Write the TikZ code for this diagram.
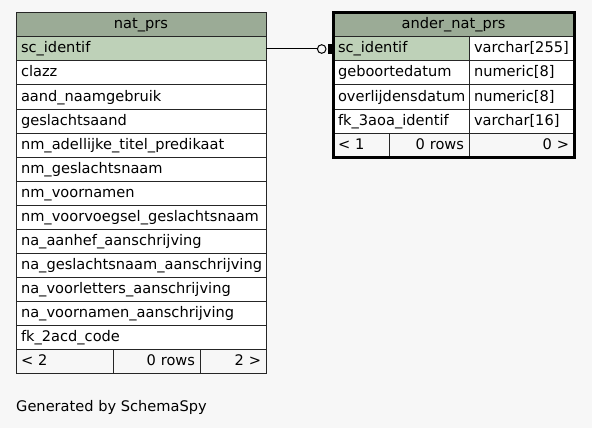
\documentclass[tikz,border=0pt]{standalone}
\usepackage{fontspec}
\usepackage{tikz}
\usetikzlibrary{
        positioning,
        backgrounds
    }
\newfontfamily\dvsans{DejaVu Sans}
\definecolor{headgreen}{HTML}{9BAB96}
\definecolor{keygreen}{HTML}{BED1B8}
\definecolor{paper}{HTML}{F7F7F7}
\tikzset{node distance=0pt,
        cell/.style={draw=black!85, line width=1pt, fill=white, minimum height=24pt, inner xsep=5pt, inner ysep=0pt,
            outer sep=0pt, text height=11.5pt, text depth=3.5pt, anchor=north west,
            font=\dvsans\fontsize{14.6}{17}\selectfont},
        col/.style={cell, align=left},
        tblhead/.style={cell, fill=headgreen, align=center},
        keycol/.style={col, fill=keygreen},
        foot/.style={cell, fill=paper},
        fkline/.style={draw=black, line width=1pt},
        fkcirc/.style={circle, draw=black, line width=1pt, fill=paper, minimum size=8.6pt, inner sep=0pt},
        fkbar/.style={fill=black, minimum width=3.5pt, minimum height=10pt, inner sep=0pt}
    }

\begin{document}
\begin{tikzpicture}[x=1pt,y=1pt]
                \useasboundingbox[fill=paper] (0,0) rectangle (592,-428);
                % nat_prs
                \node[tblhead, minimum width=250pt] (nphead) at (16,-13) {nat\_prs};
                \node[keycol, text width=240pt] (npsc)  [below=of nphead] {sc\_identif};
                \node[col, text width=240pt] (npclazz)  [below=of npsc] {clazz};
                \node[col, text width=240pt] (npaand)   [below=of npclazz] {aand\_naamgebruik};
                \node[col, text width=240pt] (npgesl)   [below=of npaand] {geslachtsaand};
                \node[col, text width=240pt] (npadel)   [below=of npgesl] {nm\_adellijke\_titel\_predikaat};
                \node[col, text width=240pt] (npgnaam)  [below=of npadel] {nm\_geslachtsnaam};
                \node[col, text width=240pt] (npvnaam)  [below=of npgnaam] {nm\_voornamen};
                \node[col, text width=240pt] (npvoorv)  [below=of npvnaam] {nm\_voorvoegsel\_geslachtsnaam};
                \node[col, text width=240pt] (npaanhef) [below=of npvoorv] {na\_aanhef\_aanschrijving};
                \node[col, text width=240pt] (npagnaam) [below=of npaanhef] {na\_geslachtsnaam\_aanschrijving};
                \node[col, text width=240pt] (npalett)  [below=of npagnaam] {na\_voorletters\_aanschrijving};
                \node[col, text width=240pt] (npavnaam) [below=of npalett] {na\_voornamen\_aanschrijving};
                \node[col, text width=240pt] (npacd)    [below=of npavnaam] {fk\_2acd\_code};
                \node[foot, text width=87pt, align=left] (npfoot1) at (npacd.south west) {< 2};
                \node[foot, text width=77pt, align=right] (npfoot2) at (npfoot1.north east) {0 rows};
                \node[foot, text width=56pt, align=right] (npfoot3) at (npfoot2.north east) {2 >};
                % ander_nat_prs
                \node[tblhead, minimum width=241pt] (anhead) at (333,-13) {ander\_nat\_prs};
                \node[keycol, text width=126pt] (ansc) at (anhead.south west) {sc\_identif};
                \node[col, text width=126pt] (angeb)  [below=of ansc] {geboortedatum};
                \node[col, text width=126pt] (anoverl) [below=of angeb] {overlijdensdatum};
                \node[col, text width=126pt] (anfk)   [below=of anoverl] {fk\_3aoa\_identif};
                \node[col, text width=95pt] (ansctype)   at (ansc.north east) {varchar[255]};
                \node[col, text width=95pt] (angebtype)  at (angeb.north east) {numeric[8]};
                \node[col, text width=95pt] (anoverltype) at (anoverl.north east) {numeric[8]};
                \node[col, text width=95pt] (anfktype)   at (anfk.north east) {varchar[16]};
                \node[foot, text width=46pt, align=left] (anfoot1) at (anfk.south west) {< 1};
                \node[foot, text width=70pt, align=right] (anfoot2) at (anfoot1.north east) {0 rows};
                \node[foot, text width=95pt, align=right] (anfoot3) at (anfoot2.north east) {0 >};
                \draw[line width=3pt] (anhead.north west) rectangle (anfoot3.south east);
                % relation
                \node[fkbar] (fkb) [left=1pt of ansc.west] {};
                \node[fkcirc] (fkc) [left=6.5pt of ansc.west] {};
                \draw[fkline] (npsc.east) -- (fkc.west);
                \node[anchor=base west, inner sep=0pt, font=\dvsans\fontsize{14.6}{17}\selectfont] (gen) at (16,-411) {Generated by SchemaSpy};
            \end{tikzpicture}
\end{document}
